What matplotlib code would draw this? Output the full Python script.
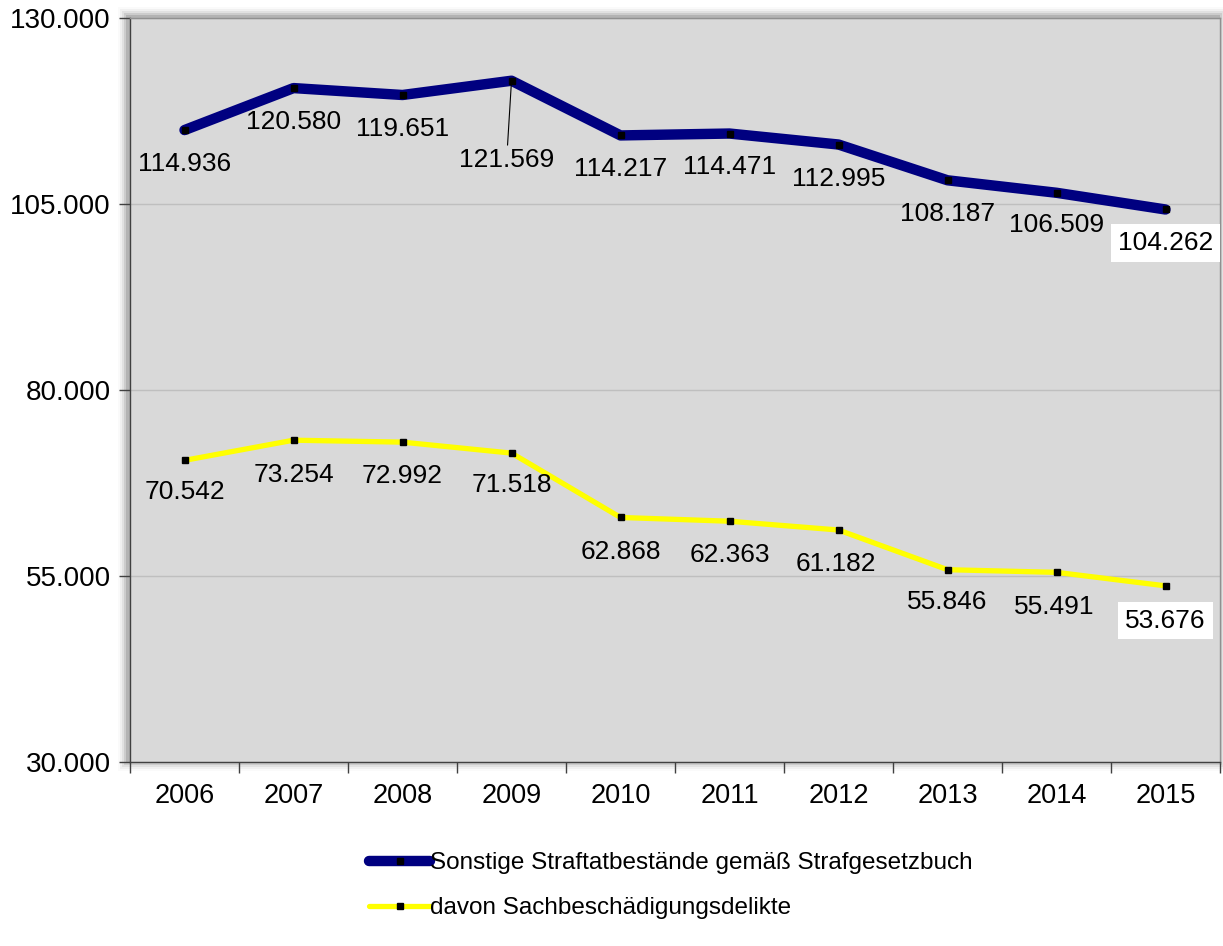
import numpy as np
import matplotlib.pyplot as plt
from matplotlib.ticker import FuncFormatter, FixedLocator
from matplotlib.patches import Rectangle

plt.rcParams['font.family'] = ['Liberation Sans', 'DejaVu Sans']

# data
years = ["2006", "2007", "2008", "2009", "2010", "2011", "2012", "2013", "2014", "2015"]
sonstige = [114936, 120580, 119651, 121569, 114217, 114471, 112995, 108187, 106509, 104262]
sachbesch = [70542, 73254, 72992, 71518, 62868, 62363, 61182, 55846, 55491, 53676]

name_sonstige = "Sonstige Straftatbestände gemäß Strafgesetzbuch"
name_sachbesch = "davon Sachbeschädigungsdelikte"

# label offsets in points (dx, dy) relative to the data point
off_sonstige = [(0, -24.5), (0, -24.5), (0, -24.5), (-3.5, -57), (0, -24.5), (0, -24), (0, -24.5), (0, -24), (0, -23), (0, -24)]
off_sachbesch = [(0, -23), (0, -25), (0, -24.5), (0, -23), (0, -25), (0, -24), (-2, -24.5), (0, -23.5), (-1.5, -25), (0, -25)]


def de_fmt(v, pos=None):
    return f"{v:,.0f}".replace(",", ".")


fig = plt.figure(figsize=(12.23, 9.46), dpi=100)
ax = fig.add_axes([130 / 1223, 1 - 762 / 946, 1090 / 1223, 744 / 946])

# soft shadow around the plot area
for i, a in enumerate([0.12, 0.09, 0.06, 0.04, 0.02]):
    d = (i + 1) * 2
    fig.patches.append(Rectangle(((130 - d - 2) / 1223, (184 - d + 1) / 946), (1090 + 2 * d) / 1223,
                                 (744 + 2 * d) / 946, transform=fig.transFigure,
                                 facecolor="black", alpha=a, edgecolor="none", zorder=-5))

ax.set_facecolor("#D9D9D9")
x = np.arange(len(years))

ax.plot(x, sonstige, color="#000080", lw=7.5, solid_capstyle="round", solid_joinstyle="round",
        marker="s", ms=4.5, mfc="black", mec="black", label=name_sonstige, zorder=3)
ax.plot(x, sachbesch, color="#FFFF00", lw=3.8, solid_capstyle="round",
        marker="s", ms=4.5, mfc="black", mec="black", label=name_sachbesch, zorder=3)

for i, v in enumerate(sonstige):
    box = dict(facecolor="white", edgecolor="none", pad=5) if i == len(years) - 1 else None
    arrow = dict(arrowstyle="-", color="black", lw=0.8, shrinkA=0, shrinkB=2) if i == 3 else None
    ax.annotate(de_fmt(v), (x[i], v), xytext=off_sonstige[i], textcoords="offset points",
                ha="center", va="center", fontsize=19, bbox=box, arrowprops=arrow, zorder=4)
for i, v in enumerate(sachbesch):
    box = dict(facecolor="white", edgecolor="none", pad=5) if i == len(years) - 1 else None
    ax.annotate(de_fmt(v), (x[i], v), xytext=off_sachbesch[i], textcoords="offset points",
                ha="center", va="center", fontsize=19, bbox=box, zorder=4)

ax.set_xlim(-0.5, len(years) - 0.5)
ax.set_ylim(30000, 130000)
ax.set_yticks([30000, 55000, 80000, 105000, 130000])
ax.yaxis.set_major_formatter(FuncFormatter(de_fmt))
ax.set_xticks(x)
ax.set_xticklabels(years)
ax.xaxis.set_minor_locator(FixedLocator(np.arange(-0.5, len(years), 1.0)))
ax.tick_params(axis="x", which="major", length=0, pad=15, labelsize=19.5)
ax.tick_params(axis="x", which="minor", length=8, width=1, color="#404040", direction="out")
ax.tick_params(axis="y", length=8, width=1, color="#404040", direction="out", pad=6, labelsize=20)

ax.grid(axis="y", color="#BFBFBF", lw=1)
ax.set_axisbelow(True)
for s in ["left", "bottom"]:
    ax.spines[s].set_color("#404040")
    ax.spines[s].set_linewidth(1)
for s in ["top", "right"]:
    ax.spines[s].set_color("#909090")
    ax.spines[s].set_linewidth(1)

fig.legend(loc="upper center", bbox_to_anchor=(671 / 1223, 1 - 840 / 946), frameon=False,
           fontsize=17.5, handlelength=2.5, handletextpad=0.0, labelspacing=0.95, borderpad=0)

fig.savefig("out.png", dpi=100)
